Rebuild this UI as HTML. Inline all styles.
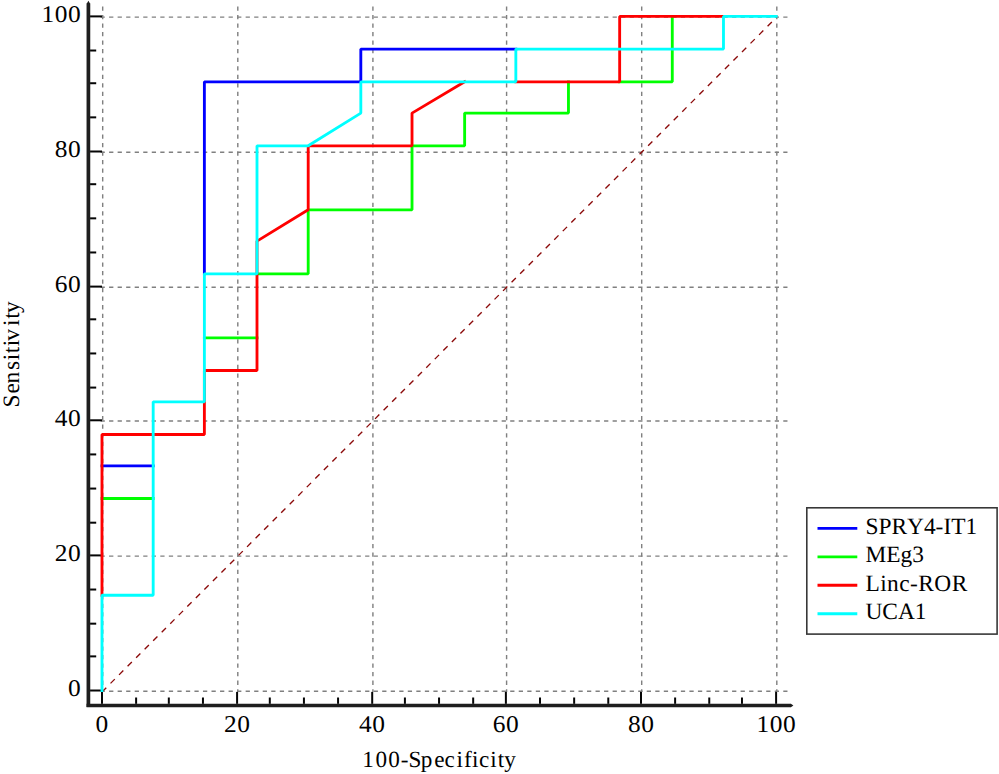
<!DOCTYPE html>
<html><head><meta charset="utf-8"><style>
html,body{margin:0;padding:0;background:#fff;}
svg{display:block;}
text{font-family:"Liberation Serif",serif;fill:#000;text-rendering:geometricPrecision;font-variant-ligatures:none;font-kerning:none;}
</style></head><body>
<svg width="999" height="774" viewBox="0 0 999 774">
<rect width="999" height="774" fill="#fff"/>
<line x1="102.69" y1="6.43" x2="102.69" y2="691.93" stroke="#808080" stroke-width="1.422" stroke-dasharray="4.267 4.267"/>
<line x1="237.80" y1="6.43" x2="237.80" y2="691.93" stroke="#808080" stroke-width="1.422" stroke-dasharray="4.267 4.267"/>
<line x1="372.91" y1="6.43" x2="372.91" y2="691.93" stroke="#808080" stroke-width="1.422" stroke-dasharray="4.267 4.267"/>
<line x1="506.59" y1="6.43" x2="506.59" y2="691.93" stroke="#808080" stroke-width="1.422" stroke-dasharray="4.267 4.267"/>
<line x1="641.70" y1="6.43" x2="641.70" y2="691.93" stroke="#808080" stroke-width="1.422" stroke-dasharray="4.267 4.267"/>
<line x1="776.81" y1="6.43" x2="776.81" y2="691.93" stroke="#808080" stroke-width="1.422" stroke-dasharray="4.267 4.267"/>
<line x1="100.56" y1="691.22" x2="787.48" y2="691.22" stroke="#808080" stroke-width="1.422" stroke-dasharray="4.267 4.267"/>
<line x1="100.56" y1="556.11" x2="787.48" y2="556.11" stroke="#808080" stroke-width="1.422" stroke-dasharray="4.267 4.267"/>
<line x1="100.56" y1="421.00" x2="787.48" y2="421.00" stroke="#808080" stroke-width="1.422" stroke-dasharray="4.267 4.267"/>
<line x1="100.56" y1="287.32" x2="787.48" y2="287.32" stroke="#808080" stroke-width="1.422" stroke-dasharray="4.267 4.267"/>
<line x1="100.56" y1="152.21" x2="787.48" y2="152.21" stroke="#808080" stroke-width="1.422" stroke-dasharray="4.267 4.267"/>
<line x1="100.56" y1="17.10" x2="787.48" y2="17.10" stroke="#808080" stroke-width="1.422" stroke-dasharray="4.267 4.267"/>
<line x1="90.05" y1="690.51" x2="102" y2="690.51" stroke="#050505" stroke-width="2.0"/>
<line x1="101.98" y1="703.85" x2="101.98" y2="691.9" stroke="#050505" stroke-width="2.0"/>
<line x1="90.05" y1="656.38" x2="96.2" y2="656.38" stroke="#050505" stroke-width="2.0"/>
<line x1="136.11" y1="703.85" x2="136.11" y2="697.5" stroke="#050505" stroke-width="2.0"/>
<line x1="90.05" y1="623.67" x2="96.2" y2="623.67" stroke="#050505" stroke-width="2.0"/>
<line x1="168.82" y1="703.85" x2="168.82" y2="697.5" stroke="#050505" stroke-width="2.0"/>
<line x1="90.05" y1="589.53" x2="96.2" y2="589.53" stroke="#050505" stroke-width="2.0"/>
<line x1="202.95" y1="703.85" x2="202.95" y2="697.5" stroke="#050505" stroke-width="2.0"/>
<line x1="90.05" y1="555.40" x2="102" y2="555.40" stroke="#050505" stroke-width="2.0"/>
<line x1="237.09" y1="703.85" x2="237.09" y2="691.9" stroke="#050505" stroke-width="2.0"/>
<line x1="90.05" y1="522.69" x2="96.2" y2="522.69" stroke="#050505" stroke-width="2.0"/>
<line x1="269.80" y1="703.85" x2="269.80" y2="697.5" stroke="#050505" stroke-width="2.0"/>
<line x1="90.05" y1="488.56" x2="96.2" y2="488.56" stroke="#050505" stroke-width="2.0"/>
<line x1="303.93" y1="703.85" x2="303.93" y2="697.5" stroke="#050505" stroke-width="2.0"/>
<line x1="90.05" y1="454.42" x2="96.2" y2="454.42" stroke="#050505" stroke-width="2.0"/>
<line x1="338.06" y1="703.85" x2="338.06" y2="697.5" stroke="#050505" stroke-width="2.0"/>
<line x1="90.05" y1="420.29" x2="102" y2="420.29" stroke="#050505" stroke-width="2.0"/>
<line x1="372.20" y1="703.85" x2="372.20" y2="691.9" stroke="#050505" stroke-width="2.0"/>
<line x1="90.05" y1="387.58" x2="96.2" y2="387.58" stroke="#050505" stroke-width="2.0"/>
<line x1="404.91" y1="703.85" x2="404.91" y2="697.5" stroke="#050505" stroke-width="2.0"/>
<line x1="90.05" y1="353.45" x2="96.2" y2="353.45" stroke="#050505" stroke-width="2.0"/>
<line x1="439.04" y1="703.85" x2="439.04" y2="697.5" stroke="#050505" stroke-width="2.0"/>
<line x1="90.05" y1="319.31" x2="96.2" y2="319.31" stroke="#050505" stroke-width="2.0"/>
<line x1="473.17" y1="703.85" x2="473.17" y2="697.5" stroke="#050505" stroke-width="2.0"/>
<line x1="90.05" y1="286.60" x2="102" y2="286.60" stroke="#050505" stroke-width="2.0"/>
<line x1="505.88" y1="703.85" x2="505.88" y2="691.9" stroke="#050505" stroke-width="2.0"/>
<line x1="90.05" y1="252.47" x2="96.2" y2="252.47" stroke="#050505" stroke-width="2.0"/>
<line x1="540.02" y1="703.85" x2="540.02" y2="697.5" stroke="#050505" stroke-width="2.0"/>
<line x1="90.05" y1="218.34" x2="96.2" y2="218.34" stroke="#050505" stroke-width="2.0"/>
<line x1="574.15" y1="703.85" x2="574.15" y2="697.5" stroke="#050505" stroke-width="2.0"/>
<line x1="90.05" y1="184.21" x2="96.2" y2="184.21" stroke="#050505" stroke-width="2.0"/>
<line x1="608.28" y1="703.85" x2="608.28" y2="697.5" stroke="#050505" stroke-width="2.0"/>
<line x1="90.05" y1="151.50" x2="102" y2="151.50" stroke="#050505" stroke-width="2.0"/>
<line x1="640.99" y1="703.85" x2="640.99" y2="691.9" stroke="#050505" stroke-width="2.0"/>
<line x1="90.05" y1="117.36" x2="96.2" y2="117.36" stroke="#050505" stroke-width="2.0"/>
<line x1="675.12" y1="703.85" x2="675.12" y2="697.5" stroke="#050505" stroke-width="2.0"/>
<line x1="90.05" y1="83.23" x2="96.2" y2="83.23" stroke="#050505" stroke-width="2.0"/>
<line x1="709.26" y1="703.85" x2="709.26" y2="697.5" stroke="#050505" stroke-width="2.0"/>
<line x1="90.05" y1="50.52" x2="96.2" y2="50.52" stroke="#050505" stroke-width="2.0"/>
<line x1="741.97" y1="703.85" x2="741.97" y2="697.5" stroke="#050505" stroke-width="2.0"/>
<line x1="90.05" y1="16.39" x2="102" y2="16.39" stroke="#050505" stroke-width="2.0"/>
<line x1="776.10" y1="703.85" x2="776.10" y2="691.9" stroke="#050505" stroke-width="2.0"/>
<line x1="101.98" y1="691.93" x2="776.81" y2="17.10" stroke="#8b0a0a" stroke-width="1.35" stroke-dasharray="6.034 6.034"/>
<path d="M101.98 465.80 L153.18 465.80 M204.38 273.80 L204.38 81.81 L360.82 81.81 L360.82 49.10 L515.84 49.10" fill="none" stroke="#0000ff" stroke-width="2.844" stroke-linejoin="bevel" stroke-linecap="square"/>
<path d="M101.98 498.51 L153.18 498.51 M204.38 337.80 L257.00 337.80 M257.00 273.80 L308.20 273.80 L308.20 209.81 L412.02 209.81 L412.02 145.81 L464.64 145.81 L464.64 113.10 L568.46 113.10 L568.46 81.81 M619.66 81.81 L672.28 81.81 L672.28 16.39" fill="none" stroke="#00ff00" stroke-width="2.844" stroke-linejoin="bevel" stroke-linecap="square"/>
<path d="M101.98 595.22 L101.98 434.51 L204.38 434.51 L204.38 370.51 L257.00 370.51 L257.00 241.09 L308.20 209.81 L308.20 145.81 L412.02 145.81 L412.02 113.10 L464.64 81.81 M515.84 81.81 L619.66 81.81 L619.66 16.39 L723.48 16.39" fill="none" stroke="#ff0000" stroke-width="2.844" stroke-linejoin="bevel" stroke-linecap="square"/>
<path d="M101.98 690.51 L101.98 595.22 L153.18 595.22 L153.18 401.80 L204.38 401.80 L204.38 273.80 L257.00 273.80 L257.00 145.81 L308.20 145.81 L360.82 113.10 L360.82 81.81 L515.84 81.81 L515.84 49.10 L723.48 49.10 L723.48 16.39 L776.10 16.39" fill="none" stroke="#00ffff" stroke-width="2.844" stroke-linejoin="bevel" stroke-linecap="square"/>
<line x1="88.4" y1="3.6" x2="88.4" y2="707.0" stroke="#1e1e1e" stroke-width="3.7"/>
<path d="M86.55 4 L88.4 0.8 L90.25 4 Z" fill="#1e1e1e"/>
<line x1="86.55" y1="705.5" x2="791" y2="705.5" stroke="#1e1e1e" stroke-width="3.7"/>
<path d="M790.9 703.65 L793.4 705.5 L790.9 707.35 Z" fill="#1e1e1e"/>
<text transform="translate(81.33 696.01) scale(1.06 1)" text-anchor="end" font-size="24.0" letter-spacing="0.5">0</text>
<text transform="translate(102.14 731.70) scale(1.06 1)" text-anchor="middle" font-size="24.0" letter-spacing="0.5">0</text>
<text transform="translate(81.33 560.90) scale(1.06 1)" text-anchor="end" font-size="24.0" letter-spacing="0.5">20</text>
<text transform="translate(237.25 731.70) scale(1.06 1)" text-anchor="middle" font-size="24.0" letter-spacing="0.5">20</text>
<text transform="translate(81.33 425.79) scale(1.06 1)" text-anchor="end" font-size="24.0" letter-spacing="0.5">40</text>
<text transform="translate(372.36 731.70) scale(1.06 1)" text-anchor="middle" font-size="24.0" letter-spacing="0.5">40</text>
<text transform="translate(81.33 292.10) scale(1.06 1)" text-anchor="end" font-size="24.0" letter-spacing="0.5">60</text>
<text transform="translate(506.05 731.70) scale(1.06 1)" text-anchor="middle" font-size="24.0" letter-spacing="0.5">60</text>
<text transform="translate(81.33 157.00) scale(1.06 1)" text-anchor="end" font-size="24.0" letter-spacing="0.5">80</text>
<text transform="translate(641.16 731.70) scale(1.06 1)" text-anchor="middle" font-size="24.0" letter-spacing="0.5">80</text>
<text transform="translate(81.33 21.89) scale(1.06 1)" text-anchor="end" font-size="24.0" letter-spacing="0.5">100</text>
<text transform="translate(776.27 731.70) scale(1.06 1)" text-anchor="middle" font-size="24.0" letter-spacing="0.5">100</text>
<text x="362.28 375.40 388.20 400.73 408.49 420.77 434.20 444.57 456.55 464.00 472.05 478.97 490.25 497.73 504.30" y="767.2" font-size="23.2">100-Specificity</text>
<text transform="translate(18.6 0) rotate(-90)" x="-407.51 -393.39 -383.49 -369.91 -360.22 -353.35 -346.32 -340.75 -326.12 -318.85 -312.95" y="0" font-size="23.4">Sensitivity</text>
<rect x="806.8" y="507.8" width="190.3" height="126.3" fill="#fff" stroke="#383838" stroke-width="1.6"/>
<line x1="817.5" y1="528.38" x2="857.3" y2="528.38" stroke="#0000ff" stroke-width="2.844"/>
<text transform="translate(865.40 533.90)" text-anchor="start" font-size="23.4">SPRY4-IT1</text>
<line x1="817.5" y1="556.82" x2="857.3" y2="556.82" stroke="#00ff00" stroke-width="2.844"/>
<text transform="translate(865.40 562.34)" text-anchor="start" font-size="23.4">MEg3</text>
<line x1="817.5" y1="585.27" x2="857.3" y2="585.27" stroke="#ff0000" stroke-width="2.844"/>
<text transform="translate(865.40 590.79)" text-anchor="start" font-size="23.4" letter-spacing="0.45">Linc-ROR</text>
<line x1="817.5" y1="613.71" x2="857.3" y2="613.71" stroke="#00ffff" stroke-width="2.844"/>
<text transform="translate(865.40 619.23)" text-anchor="start" font-size="23.4">UCA1</text>
</svg>
</body></html>
